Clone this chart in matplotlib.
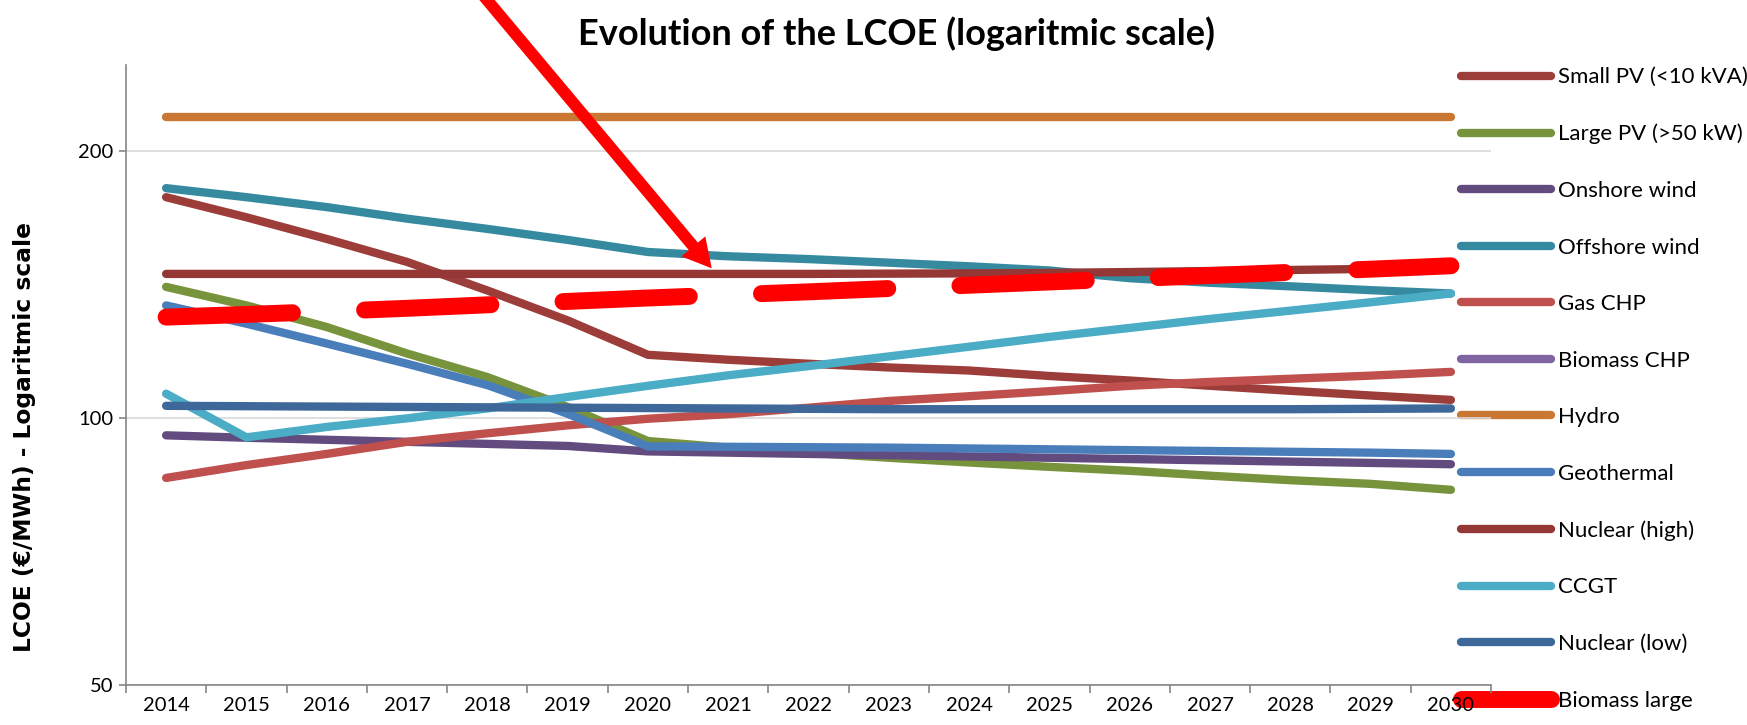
import numpy as np
import matplotlib
matplotlib.use("Agg")
import matplotlib.pyplot as plt
from matplotlib.patches import FancyArrowPatch

# ---------------- data ----------------
years = ["2014", "2015", "2016", "2017", "2018", "2019", "2020", "2021", "2022",
         "2023", "2024", "2025", "2026", "2027", "2028", "2029", "2030"]

small_pv = [177.2, 168.2, 159.0, 149.8, 139.1, 128.7, 117.7, 116.2, 115.0,
            113.9, 113.0, 111.4, 110.1, 108.6, 107.2, 105.9, 104.7]
large_pv = [140.4, 133.8, 126.5, 118.1, 111.1, 102.8, 94.1, 92.5, 91.3,
            90.1, 89.0, 88.0, 87.1, 86.0, 85.0, 84.2, 82.9]
onshore_wind = [95.5, 94.9, 94.4, 93.9, 93.4, 92.9, 91.6, 91.3, 91.0,
                90.7, 90.4, 90.1, 89.8, 89.5, 89.2, 88.9, 88.6]
offshore_wind = [181.4, 177.2, 172.7, 167.6, 163.2, 158.6, 153.7, 152.0, 150.9,
                 149.5, 148.1, 146.5, 143.6, 141.9, 140.6, 139.2, 138.0]
gas_chp = [85.5, 88.4, 91.0, 93.9, 96.0, 98.0, 99.7, 100.9, 102.6,
           104.4, 105.7, 107.1, 108.6, 109.7, 110.6, 111.5, 112.6]
biomass_chp = [np.nan] * len(years)   # no visible line in the chart
hydro = [218, 218, 218, 218, 218, 218, 218, 218, 218,
         218, 218, 218, 218, 218, 218, 218, 218]
geothermal = [133.8, 127.6, 121.2, 115.0, 108.8, 101.0, 92.8, 92.7, 92.6,
              92.5, 92.3, 92.1, 91.9, 91.7, 91.5, 91.3, 91.0]
nuclear_high = [145.2, 145.2, 145.2, 145.2, 145.2, 145.2, 145.2, 145.2, 145.2,
                145.3, 145.4, 145.6, 145.9, 146.3, 146.7, 147.1, 147.5]
ccgt = [106.4, 95.0, 97.6, 99.8, 102.4, 105.5, 108.6, 111.6, 114.3,
        117.2, 120.2, 123.3, 126.2, 129.2, 132.0, 134.9, 138.0]
nuclear_low = [103.1, 103.0, 102.9, 102.8, 102.7, 102.6, 102.5, 102.4, 102.3,
               102.2, 102.2, 102.2, 102.2, 102.2, 102.2, 102.3, 102.4]
biomass_large = [129.8, 130.7, 131.7, 132.8, 134.0, 135.2, 136.4, 137.5, 138.6,
                 139.8, 141.0, 142.2, 143.4, 144.6, 145.8, 147.0, 148.3]

series = [
    ("Small PV (<10 kVA)", small_pv, "#9C3D3A"),
    ("Large PV (>50 kW)", large_pv, "#77933C"),
    ("Onshore wind", onshore_wind, "#624B7E"),
    ("Offshore wind", offshore_wind, "#358AA0"),
    ("Gas CHP", gas_chp, "#C0504D"),
    ("Biomass CHP", biomass_chp, "#8064A2"),
    ("Hydro", hydro, "#C97733"),
    ("Geothermal", geothermal, "#4A7EBB"),
    ("Nuclear (high)", nuclear_high, "#953735"),
    ("CCGT", ccgt, "#4BACC6"),
    ("Nuclear (low)", nuclear_low, "#3E6899"),
]

# ---------------- figure ----------------
plt.rcParams["lines.scale_dashes"] = False
fig = plt.figure(figsize=(17.47, 7.25), dpi=100)
ax = fig.add_axes([0.0721, 0.0557, 0.7814, 0.8552])

x = np.arange(len(years))
for name, vals, col in series:
    ax.plot(x, vals, color=col, lw=6, solid_capstyle="round", label=name)

ax.plot(x, biomass_large, color="#FF0000", lw=12.2, linestyle=(0, (91, 52)),
        dash_capstyle="round", solid_capstyle="round", label="Biomass large")

# axes styling
ax.set_yscale("log", base=2)
ax.set_ylim(50, 250)
ax.set_xlim(-0.5, len(years) - 0.5)
ax.set_yticks([50, 100, 200])
ax.set_yticklabels(["50", "100", "200"])
ax.yaxis.set_minor_locator(matplotlib.ticker.NullLocator())
ax.set_xticks(x)
ax.set_xticklabels(years)
ax.set_xticks(np.arange(-0.5, len(years), 1), minor=True)

ax.grid(axis="y", color="#D9D9D9", lw=1.2)
ax.set_axisbelow(True)
for s in ["top", "right"]:
    ax.spines[s].set_visible(False)
for s in ["left", "bottom"]:
    ax.spines[s].set_color("#868686")
    ax.spines[s].set_linewidth(1.2)

ax.tick_params(axis="x", which="major", length=0, pad=9)
ax.tick_params(axis="x", which="minor", length=6, color="#868686", width=1.2)
ax.tick_params(axis="y", which="major", length=5, color="#868686", width=1.2, pad=4)
for lab in ax.get_xticklabels() + ax.get_yticklabels():
    lab.set_fontfamily("Lato")
    lab.set_fontsize(14.5)

# legend on the right (drawn under the axis labels, like the original)
leg = ax.legend(loc="upper left", bbox_to_anchor=(0.8363, 0.9072),
                bbox_transform=fig.transFigure, frameon=False,
                prop={"family": "Lato", "size": 16},
                handlelength=4.05, handletextpad=0.31, labelspacing=1.645,
                borderpad=0, borderaxespad=0)
leg.set_zorder(0.3)

# titles
fig.text(0.513, 0.954, "Evolution of the LCOE (logaritmic scale)",
         ha="center", va="center", fontsize=26, fontweight="bold", family="Lato")
fig.text(0.014, 0.3966, "LCOE (€/MWh) - Logaritmic scale", rotation=90,
         ha="center", va="center", fontsize=16.8, fontweight="bold",
         family="DejaVu Sans")

# red arrow pointing at the Biomass large line
arrow = FancyArrowPatch((0.2740, 1.0138), (0.4074, 0.6299),
                        transform=fig.transFigure,
                        arrowstyle="simple,head_length=20.6,head_width=22.4,tail_width=8.5",
                        mutation_scale=1, color="#FF0000", lw=0,
                        shrinkA=0, shrinkB=0)
fig.add_artist(arrow)

fig.savefig("out.png", dpi=100)
